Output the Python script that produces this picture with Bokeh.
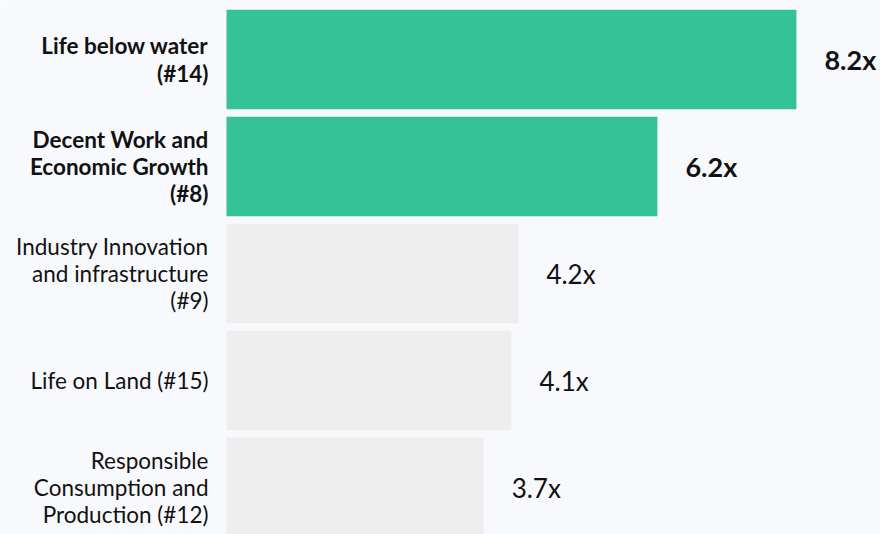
from bokeh.plotting import figure
from bokeh.models import ColumnDataSource, Range1d
from bokeh.core.properties import value
from bokeh.embed import file_html
from bokeh.resources import INLINE

categories = [
    "Life below water\n(#14)",
    "Decent Work and\nEconomic Growth\n(#8)",
    "Industry Innovation\nand infrastructure\n(#9)",
    "Life on Land (#15)",
    "Responsible\nConsumption and\nProduction (#12)",
]
values = [8.2, 6.2, 4.2, 4.1, 3.7]
value_labels = ["8.2x", "6.2x", "4.2x", "4.1x", "3.7x"]
highlight = [True, True, False, False, False]

BG = "#f8f9fd"
GREEN = "#34c296"
GRAY = "#eeeeee"
FONT = "Lato"

ypos = list(range(len(categories)))
colors = [GREEN if h else GRAY for h in highlight]
weights = ["bold" if h else "normal" for h in highlight]
vsizes = ["27px" if h else "26px" for h in highlight]

src = ColumnDataSource(dict(y=ypos, v=values, cat=categories, lab=value_labels,
                            color=colors, weight=weights, vsize=vsizes))

PX = 69.5
W, H = 880, 534
left_px = 226
center0 = 59
band = 107
p = figure(width=W, height=H, output_backend="svg", toolbar_location=None,
           x_range=Range1d(-left_px / PX, (W - left_px) / PX),
           y_range=Range1d((H - center0) / band, -center0 / band),
           min_border=0, background_fill_color=BG, border_fill_color=BG)
p.outline_line_color = None
p.axis.visible = False
p.grid.visible = False

p.hbar(y="y", left=0, right="v", height=0.93, fill_color="color",
       line_color=None, source=src)

p.text(x=0, y="y", text="cat", source=src, x_offset=-18,
       text_align="right", text_baseline="middle", text_font=value(FONT),
       text_font_size="22.5px", text_font_style="weight", text_color="#111111",
       text_line_height=1.01)

p.text(x="v", y="y", text="lab", source=src, x_offset=28,
       text_align="left", text_baseline="middle", text_font=value(FONT),
       text_font_size="vsize", text_font_style="weight", text_color="#111111")

open("out.html", "w").write(file_html(p, INLINE))
